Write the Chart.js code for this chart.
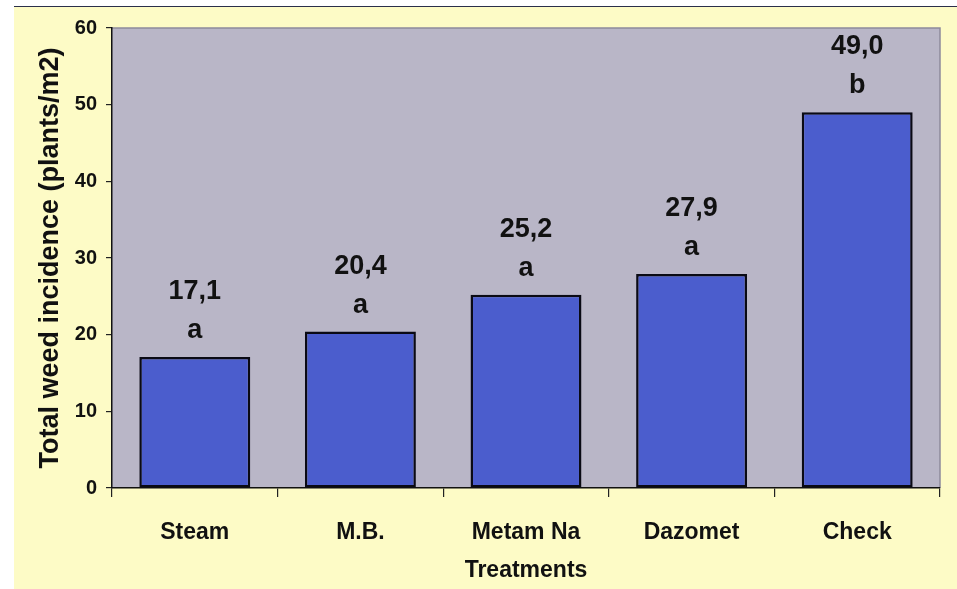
<!DOCTYPE html>
<html>
<head>
<meta charset="utf-8">
<script src="https://cdn.jsdelivr.net/npm/chart.js@4"></script>
<style>
  html, body { margin: 0; padding: 0; background: #ffffff; width: 957px; height: 589px; overflow: hidden; }
  #frame {
    position: absolute; left: 14px; top: 6px; width: 943px; height: 583px;
    background: #fdfbc6; border-top: 1px solid #2a2f4a; box-sizing: border-box;
  }
  #wrap { position: absolute; left: 0; top: 0; width: 943px; height: 582px; }
</style>
</head>
<body>
<div id="frame"><div id="wrap"><canvas id="c" width="943" height="582"></canvas></div></div>
<script>
// Weed counts per soil treatment, with significance letters
const treatments = ['Steam', 'M.B.', 'Metam Na', 'Dazomet', 'Check'];
const weedIncidence = [17.1, 20.4, 25.2, 27.9, 49.0];
const groupLetters = ['a', 'a', 'a', 'a', 'b'];
const yTicks = [0, 10, 20, 30, 40, 50, 60];

const FONT = "'Liberation Sans', Arial, sans-serif";

// Shaded plot area with a thin frame on top and right
const plotBackground = {
  id: 'plotBackground',
  beforeDraw(chart) {
    const { ctx, chartArea: a } = chart;
    ctx.save();
    ctx.fillStyle = '#b9b6c7';
    ctx.fillRect(a.left, a.top, a.right - a.left, a.bottom - a.top);
    ctx.strokeStyle = '#8d8a9c';
    ctx.lineWidth = 1.5;
    ctx.beginPath();
    ctx.moveTo(a.left, a.top);
    ctx.lineTo(a.right, a.top);
    ctx.lineTo(a.right, a.bottom);
    ctx.stroke();
    ctx.restore();
  }
};

// Value and letter written above each bar
const barLabels = {
  id: 'barLabels',
  afterDatasetsDraw(chart) {
    const { ctx } = chart;
    const meta = chart.getDatasetMeta(0);
    ctx.save();
    ctx.fillStyle = '#111111';
    ctx.font = 'bold 27px ' + FONT;
    ctx.textAlign = 'center';
    ctx.textBaseline = 'alphabetic';
    meta.data.forEach((bar, i) => {
      const v = weedIncidence[i].toFixed(1).replace('.', ',');
      ctx.fillText(v, bar.x, bar.y - 58);
      ctx.fillText(groupLetters[i], bar.x, bar.y - 19);
    });
    ctx.restore();
  }
};

new Chart(document.getElementById('c'), {
  type: 'bar',
  data: {
    labels: treatments,
    datasets: [{
      data: weedIncidence,
      backgroundColor: '#4b5dcd',
      borderColor: '#0a0a14',
      borderWidth: 2.5,
      borderSkipped: false,
      categoryPercentage: 1.0,
      barPercentage: 0.67
    }]
  },
  options: {
    responsive: false,
    animation: false,
    layout: { padding: { top: 18, right: 17, left: 0, bottom: 0 } },
    plugins: {
      legend: { display: false },
      tooltip: { enabled: false }
    },
    scales: {
      x: {
        afterFit(scale) { scale.height = 101; },
        grid: {
          display: true,
          offset: true,
          drawOnChartArea: false,
          drawTicks: true,
          tickLength: 9,
          color: '#222222',
          lineWidth: 1.2
        },
        border: { display: true, color: '#111111', width: 1.5 },
        ticks: {
          color: '#111111',
          padding: 22,
          font: { family: FONT, size: 23, weight: 'bold' }
        },
        title: {
          display: true,
          text: 'Treatments',
          color: '#111111',
          padding: { top: 0, bottom: 5 },
          font: { family: FONT, size: 23, weight: 'bold' }
        }
      },
      y: {
        min: 0,
        max: 60,
        afterFit(scale) { scale.width = 98; },
        afterBuildTicks(scale) { scale.ticks = yTicks.map(v => ({ value: v })); },
        grid: {
          display: true,
          drawOnChartArea: false,
          drawTicks: true,
          tickLength: 6,
          color: '#222222',
          lineWidth: 1.2
        },
        border: { display: true, color: '#111111', width: 1.5 },
        ticks: {
          color: '#111111',
          padding: 9,
          font: { family: FONT, size: 20, weight: 'bold' }
        },
        title: {
          display: true,
          text: 'Total weed incidence (plants/m2)',
          color: '#111111',
          padding: { top: 20, bottom: 0 },
          font: { family: FONT, size: 27, weight: 'bold' }
        }
      }
    }
  },
  plugins: [plotBackground, barLabels]
});
</script>
</body>
</html>
